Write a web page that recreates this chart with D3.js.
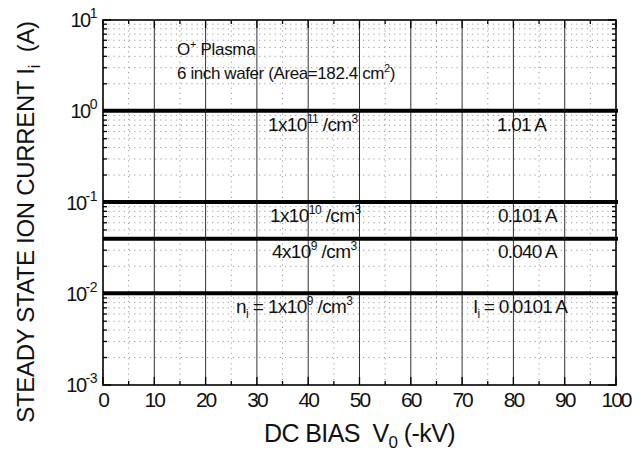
<!DOCTYPE html>
<html><head><meta charset="utf-8">
<script src="https://cdn.jsdelivr.net/npm/d3@7"></script>
<style>
html,body{margin:0;padding:0;background:#fff;}
svg{display:block;}
text{font-family:"Liberation Sans Narrow","Arial Narrow","Liberation Sans",Arial,sans-serif;fill:#111;}
</style></head>
<body><svg id="c" width="642" height="453"></svg>
<script>
// ---- data ----
const biasTicks = [0,10,20,30,40,50,60,70,80,90,100];
const decadeExponents = [-3,-2,-1,0,1];
const currents = [1.01, 0.101, 0.040, 0.0101];
const densityLabels = [["1x10","11"," /cm","3"],["1x10","10"," /cm","3"],["4x10","9"," /cm","3"],["1x10","9"," /cm","3"]];
const currentLabels = ["1.01 A","0.101 A","0.040 A","0.0101 A"];

const W=642,H=453, m={l:103,t:20,r:616,b:385};
const svg=d3.select("#c");
const x=d3.scaleLinear().domain([0,100]).range([m.l,m.r]);
const y=d3.scaleLog().domain([1e-3,1e1]).range([m.b,m.t]);

// minor log values
const minors=[];
decadeExponents.slice(0,-1).forEach(e=>{for(let k=2;k<=9;k++)minors.push(k*Math.pow(10,e));});
const halfTicks=d3.range(5,100,10);

const g=svg.append("g");
// dotted grid
g.selectAll(".hm").data(minors).join("line")
 .attr("x1",m.l).attr("x2",m.r).attr("y1",d=>y(d)).attr("y2",d=>y(d))
 .attr("stroke","#9a9a9a").attr("stroke-width",1).attr("stroke-dasharray","1.2,4");
g.selectAll(".vm").data(halfTicks).join("line")
 .attr("y1",m.t).attr("y2",m.b).attr("x1",d=>x(d)).attr("x2",d=>x(d))
 .attr("stroke","#9a9a9a").attr("stroke-width",1).attr("stroke-dasharray","1.2,4");
// solid vertical grid
g.selectAll(".vg").data(biasTicks.slice(1,-1)).join("line")
 .attr("y1",m.t).attr("y2",m.b).attr("x1",d=>x(d)).attr("x2",d=>x(d))
 .attr("stroke","#333").attr("stroke-width",1);

// ticks
const tk=svg.append("g").attr("stroke","#000").attr("stroke-width",1.3);
decadeExponents.forEach(e=>{const v=Math.pow(10,e);
 tk.append("line").attr("x1",m.l).attr("x2",m.l+8).attr("y1",y(v)).attr("y2",y(v));
 tk.append("line").attr("x1",m.r).attr("x2",m.r-8).attr("y1",y(v)).attr("y2",y(v));});
minors.forEach(v=>{
 tk.append("line").attr("x1",m.l).attr("x2",m.l+4).attr("y1",y(v)).attr("y2",y(v));
 tk.append("line").attr("x1",m.r).attr("x2",m.r-4).attr("y1",y(v)).attr("y2",y(v));});
biasTicks.forEach(v=>{
 tk.append("line").attr("x1",x(v)).attr("x2",x(v)).attr("y1",m.b).attr("y2",m.b-8);
 tk.append("line").attr("x1",x(v)).attr("x2",x(v)).attr("y1",m.t).attr("y2",m.t+8);});
halfTicks.forEach(v=>{
 tk.append("line").attr("x1",x(v)).attr("x2",x(v)).attr("y1",m.b).attr("y2",m.b-4);
 tk.append("line").attr("x1",x(v)).attr("x2",x(v)).attr("y1",m.t).attr("y2",m.t+4);});

// frame
svg.append("rect").attr("x",m.l).attr("y",m.t).attr("width",m.r-m.l).attr("height",m.b-m.t)
 .attr("fill","none").attr("stroke","#000").attr("stroke-width",1.6);

// current lines
svg.selectAll(".cl").data(currents).join("line")
 .attr("x1",x(0)).attr("x2",x(100)+2).attr("y1",d=>y(d)).attr("y2",d=>y(d))
 .attr("stroke","#000").attr("stroke-width",4);

// x tick labels
svg.selectAll(".xl").data(biasTicks).join("text")
 .attr("x",d=>x(d)).attr("y",m.b+22).attr("text-anchor","middle")
 .attr("font-size",21).attr("letter-spacing",-2).text(d=>d);
// y tick labels
decadeExponents.forEach(e=>{
 const t=svg.append("text").attr("x",m.l-6).attr("y",y(Math.pow(10,e))+7).attr("text-anchor","end").attr("font-size",20).attr("letter-spacing",-1.5);
 t.append("tspan").text("10");
 t.append("tspan").attr("dy",-9).attr("font-size",14).attr("letter-spacing",-0.5).text(e<0?"-"+(-e):String(e));
});

// axis titles
const xt=svg.append("text").attr("x",(m.l+m.r)/2).attr("y",442).attr("text-anchor","middle").attr("font-size",25).attr("letter-spacing",-0.6);
xt.append("tspan").text("DC BIAS\u00a0\u00a0V");
xt.append("tspan").attr("dy",6).attr("font-size",17).text("0");
xt.append("tspan").attr("dy",-6).text("\u00a0(-kV)");
const yt=svg.append("text").attr("transform","translate(34,222) rotate(-90)").attr("text-anchor","middle").attr("font-size",24).attr("letter-spacing",-0.3);
yt.append("tspan").text("STEADY STATE ION CURRENT I");
yt.append("tspan").attr("dy",6).attr("font-size",16).text("i");
yt.append("tspan").attr("dy",-6).text("\u00a0\u00a0(A)");

// annotations
const a1=svg.append("text").attr("x",177).attr("y",55).attr("font-size",17).attr("letter-spacing",-0.3);
a1.append("tspan").text("O");
a1.append("tspan").attr("dy",-7).attr("font-size",11).text("+");
a1.append("tspan").attr("dy",7).text(" Plasma");
const a2=svg.append("text").attr("x",177).attr("y",79).attr("font-size",17).attr("letter-spacing",-0.4);
a2.append("tspan").text("6 inch wafer (Area=182.4 cm");
a2.append("tspan").attr("dy",-7).attr("font-size",11).text("2");
a2.append("tspan").attr("dy",7).text(")");

const denX=[268,270,272,236], lblX=[497,498,498,473];
currents.forEach((c,i)=>{
 const by=y(c)+(i===2?19:20);
 const t=svg.append("text").attr("x",denX[i]).attr("y",by).attr("font-size",19).attr("letter-spacing",-0.6);
 if(i===3){t.append("tspan").text("n");t.append("tspan").attr("dy",5).attr("font-size",12).text("i");t.append("tspan").attr("dy",-5).text("\u00a0=\u00a0");}
 const d=densityLabels[i];
 t.append("tspan").text(d[0]);
 t.append("tspan").attr("dy",-8).attr("font-size",12).text(d[1]);
 t.append("tspan").attr("dy",8).text(d[2]);
 t.append("tspan").attr("dy",-8).attr("font-size",12).text(d[3]);
 const u=svg.append("text").attr("x",lblX[i]).attr("y",by).attr("font-size",19).attr("letter-spacing",-0.8);
 if(i===3){u.append("tspan").text("I");u.append("tspan").attr("dy",5).attr("font-size",12).text("i");u.append("tspan").attr("dy",-5).text("\u00a0=\u00a0");}
 u.append("tspan").text(currentLabels[i]);
});
</script></body></html>
